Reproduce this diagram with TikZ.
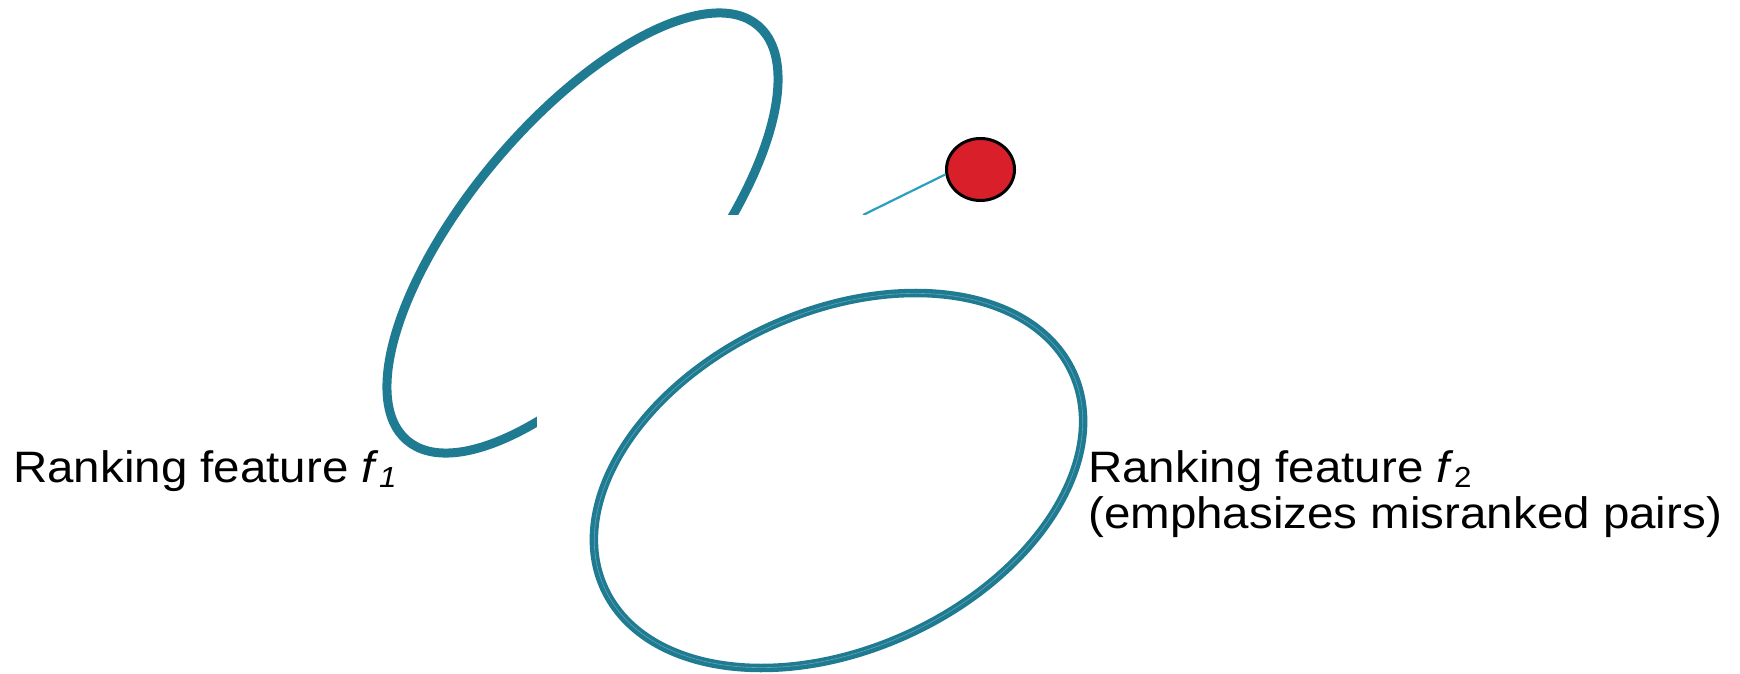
\documentclass[tikz,border=0pt]{standalone}
\usepackage{fontspec}
\setmainfont{Liberation Sans}
\usetikzlibrary{shapes.geometric}
\definecolor{ringteal}{HTML}{1F7B92}
\definecolor{linkcyan}{HTML}{2A9FC0}
\definecolor{dotred}{HTML}{D9202A}
\begin{document}
\begin{tikzpicture}[x=1pt,y=1pt,
  ring/.style={draw=ringteal},
  ringsheen/.style={draw=ringteal!70!white, line width=0.6},
  dot/.style={ellipse, draw=black, line width=3, fill=dotred,
    minimum width=68, minimum height=62, inner sep=0pt},
  link/.style={draw=linkcyan, line width=2.2},
  lbl/.style={inner sep=0pt, anchor=base west, xscale=1.08, align=left,
    font=\fontsize{44}{46}\selectfont}]
\useasboundingbox (0,0) rectangle (1740,673);

% ring of the first feature
\draw[ring, line width=9] (582.5,440) ellipse[x radius=271.7, y radius=113.2, rotate=49.8];

% sample point and its link
\node[dot] (pt) at (980.5,503.5) {};
\coordinate (tail) at (863,458);
\draw[link] (tail) -- (pt.188);

% cut-out over the lower right part
\fill[white] (537,0) rectangle (900,458);

% ring of the second feature
\draw[ring, line width=8.5] (838.5,192.5) ellipse[x radius=257.9, y radius=168.7, rotate=24.8];
\draw[ringsheen] (838.5,192.5) ellipse[x radius=257.5, y radius=168.3, rotate=24.8];

% labels (a two-line node sits on the baseline of its last line)
\node[lbl] (f1lbl) at (13,191)
  {Ranking feature \textit{f}\raisebox{-0.12em}{\fontsize{29}{29}\selectfont\itshape 1}};
\node[lbl] (f2lbl) at (1088,145)
  {Ranking feature \textit{f}\raisebox{-0.12em}{\fontsize{29}{29}\selectfont 2}\\(emphasizes misranked pairs)};
\end{tikzpicture}
\end{document}
